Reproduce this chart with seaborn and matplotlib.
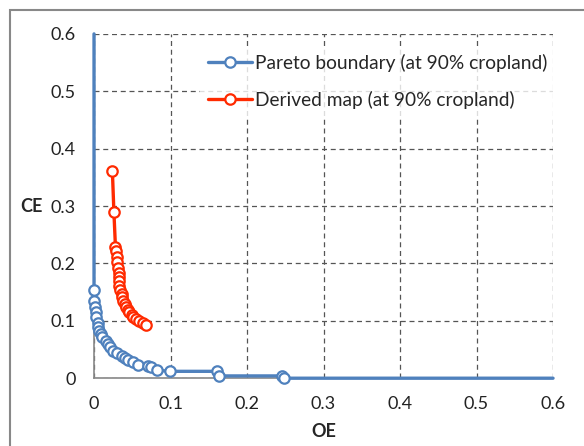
import matplotlib
matplotlib.use("Agg")
import matplotlib.pyplot as plt
import matplotlib.patches as patches
import seaborn as sns

# Pareto boundary (at 90% cropland); first and last points are line-only ends
pareto_oe = [0.0, 0.0, 0.0, 0.001, 0.002, 0.003, 0.005, 0.005, 0.007, 0.009, 0.011,
             0.016, 0.018, 0.021, 0.025, 0.030, 0.036, 0.040, 0.044, 0.051, 0.057,
             0.070, 0.075, 0.082, 0.0995, 0.161, 0.164, 0.246, 0.248, 0.6]
pareto_ce = [0.6, 0.153, 0.135, 0.124, 0.115, 0.106, 0.097, 0.089, 0.083, 0.077, 0.071,
             0.065, 0.060, 0.054, 0.048, 0.044, 0.039, 0.036, 0.031, 0.028, 0.023,
             0.022, 0.019, 0.014, 0.012, 0.012, 0.004, 0.004, 0.0, 0.0]

# Derived map (at 90% cropland)
derived_oe = [0.024, 0.026, 0.028, 0.029, 0.030, 0.030, 0.031, 0.032, 0.032, 0.032,
              0.033, 0.034, 0.036, 0.037, 0.038, 0.040, 0.042, 0.044, 0.046, 0.049,
              0.051, 0.055, 0.059, 0.064, 0.068]
derived_ce = [0.361, 0.289, 0.229, 0.222, 0.212, 0.202, 0.192, 0.183, 0.176, 0.169,
              0.161, 0.154, 0.147, 0.141, 0.135, 0.129, 0.124, 0.119, 0.115, 0.111,
              0.107, 0.103, 0.100, 0.096, 0.092]

ticks = [0, 0.1, 0.2, 0.3, 0.4, 0.5, 0.6]
tick_labels = ["0", "0.1", "0.2", "0.3", "0.4", "0.5", "0.6"]

sns.set_style("white")
plt.rcParams['font.family'] = ['Lato', 'DejaVu Sans']

fig = plt.figure(figsize=(5.84, 4.46), dpi=100)
ax = fig.add_axes([0.161, 0.152, 0.786, 0.772])

blue = "#4F81BD"
red = "#FF2A00"
mk = dict(marker='o', markersize=7.5, markerfacecolor='white', markeredgewidth=1.6)

sns.lineplot(x=pareto_oe, y=pareto_ce, sort=False, estimator=None, ax=ax, color=blue,
             lw=2.4, markeredgecolor=blue, markevery=list(range(1, len(pareto_oe) - 1)),
             label="Pareto boundary (at 90% cropland)", clip_on=False, zorder=3, **mk)
sns.lineplot(x=derived_oe, y=derived_ce, sort=False, estimator=None, ax=ax, color=red,
             lw=2.4, markeredgecolor=red, label="Derived map (at 90% cropland)",
             clip_on=False, zorder=4, **mk)

ax.set_xlim(0, 0.6)
ax.set_ylim(0, 0.6)
ax.set_xticks(ticks)
ax.set_xticklabels(tick_labels)
ax.set_yticks(ticks)
ax.set_yticklabels(tick_labels)
ax.tick_params(axis='both', labelsize=13, colors='#222222', length=5, width=1,
               direction='out', pad=8)
ax.tick_params(axis='both', color='#888888')
ax.grid(True, linestyle=(0, (4, 3)), color='#555555', lw=0.9)
for s in ['top', 'right']:
    ax.spines[s].set_visible(False)
for s in ['left', 'bottom']:
    ax.spines[s].set_color('#888888')
    ax.spines[s].set_linewidth(1.2)

ax.set_xlabel("OE", fontsize=13, fontweight='bold', labelpad=8)
ax.set_ylabel("CE", fontsize=13, fontweight='bold', rotation=0, labelpad=14, va='center')

leg = ax.legend(loc='upper left', bbox_to_anchor=(200 / 584, 1 - 46 / 446),
                bbox_transform=fig.transFigure, frameon=True, fontsize=13.8,
                handlelength=2.3, handletextpad=0.15, labelspacing=0.98,
                borderaxespad=0, borderpad=0.4, fancybox=False)
leg.get_frame().set_facecolor('white')
leg.get_frame().set_edgecolor('none')
leg.set_zorder(5)

fig.add_artist(patches.Rectangle((9.5 / 584, -0.1), 1.2, 1 - 10 / 446 + 0.1,
                                 transform=fig.transFigure, fill=False,
                                 edgecolor='#888888', lw=1.5, clip_on=False))

fig.savefig("out.png", dpi=100)
